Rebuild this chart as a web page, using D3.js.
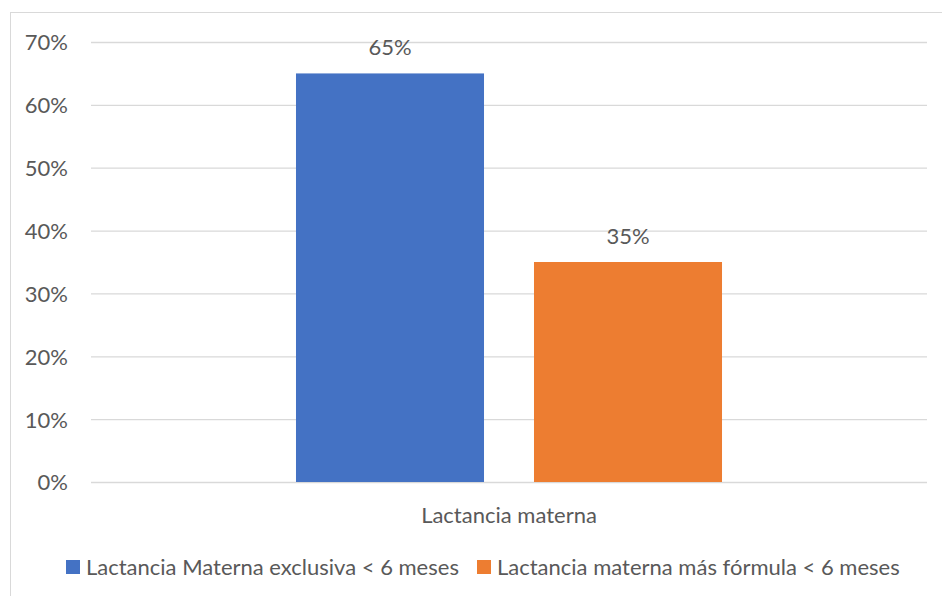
<!DOCTYPE html>
<html>
<head>
<meta charset="utf-8">
<script src="https://cdn.jsdelivr.net/npm/d3@7"></script>
<style>
  html, body { margin: 0; padding: 0; background: #fff; }
  svg text { font-family: Lato, "Open Sans", sans-serif; fill: #595959; }
</style>
</head>
<body>
<svg id="chart" width="942" height="596"></svg>
<script>
// Chart data
const categories = ["Lactancia materna"];
const seriesNames = ["Lactancia Materna exclusiva < 6 meses", "Lactancia materna más fórmula < 6 meses"];
const seriesValues = [0.65, 0.35];
const seriesColors = ["#4472c4", "#ed7d31"];
const yTicks = [0, 0.1, 0.2, 0.3, 0.4, 0.5, 0.6, 0.7];

const svg = d3.select("#chart");
const plot = { left: 91, right: 927, top: 42, bottom: 482 };
const fontSize = "22px";

// Outer chart border
svg.append("rect")
  .attr("x", 10.5).attr("y", 12.5)
  .attr("width", 960).attr("height", 620)
  .attr("fill", "none").attr("stroke", "#d9d9d9").attr("stroke-width", 1);

const y = d3.scaleLinear().domain([0, 0.7]).range([plot.bottom, plot.top]);
const x0 = d3.scaleBand().domain(categories).range([plot.left, plot.right]);
const x1 = d3.scaleBand().domain(seriesNames)
  .range([x0.bandwidth() * 0.2452, x0.bandwidth() * 0.7548])
  .paddingInner(0.21);

// Gridlines and y tick labels
const yAxis = d3.axisLeft(y).tickValues(yTicks)
  .tickSize(-(plot.right - plot.left))
  .tickFormat(d3.format(".0%"));
const gAxis = svg.append("g").attr("transform", `translate(${plot.left},0)`).call(yAxis);
gAxis.select(".domain").remove();
gAxis.selectAll(".tick line").attr("stroke", "#d9d9d9").attr("stroke-width", 1.3);
gAxis.selectAll(".tick text")
  .attr("x", -23).attr("dy", "0.36em")
  .style("font-size", fontSize);

// Bars
const gCat = svg.append("g").selectAll("g").data(categories).join("g")
  .attr("transform", d => `translate(${x0(d)},0)`);

gCat.selectAll("rect").data(seriesNames.map((s, i) => ({ s, v: seriesValues[i], c: seriesColors[i] })))
  .join("rect")
  .attr("x", d => x1(d.s))
  .attr("width", x1.bandwidth())
  .attr("y", d => y(d.v))
  .attr("height", d => y(0) - y(d.v))
  .attr("fill", d => d.c);

// Value labels
gCat.selectAll("text.val").data(seriesNames.map((s, i) => ({ s, v: seriesValues[i] })))
  .join("text").attr("class", "val")
  .attr("x", d => x1(d.s) + x1.bandwidth() / 2)
  .attr("y", d => y(d.v) - 18)
  .attr("text-anchor", "middle")
  .style("font-size", fontSize)
  .text(d => d3.format(".0%")(d.v));

// Category label
svg.append("g").selectAll("text").data(categories).join("text")
  .attr("x", d => x0(d) + x0.bandwidth() / 2)
  .attr("y", 523)
  .attr("text-anchor", "middle")
  .style("font-size", fontSize)
  .text(d => d);

// Legend
const legendX = [66, 477];
const lg = svg.append("g").selectAll("g").data(seriesNames).join("g")
  .attr("transform", (d, i) => `translate(${legendX[i]},560)`);
lg.append("rect").attr("width", 14).attr("height", 14).attr("fill", (d, i) => seriesColors[i]);
lg.append("text").attr("x", 20).attr("y", 15).style("font-size", fontSize).text(d => d);
</script>
</body>
</html>
